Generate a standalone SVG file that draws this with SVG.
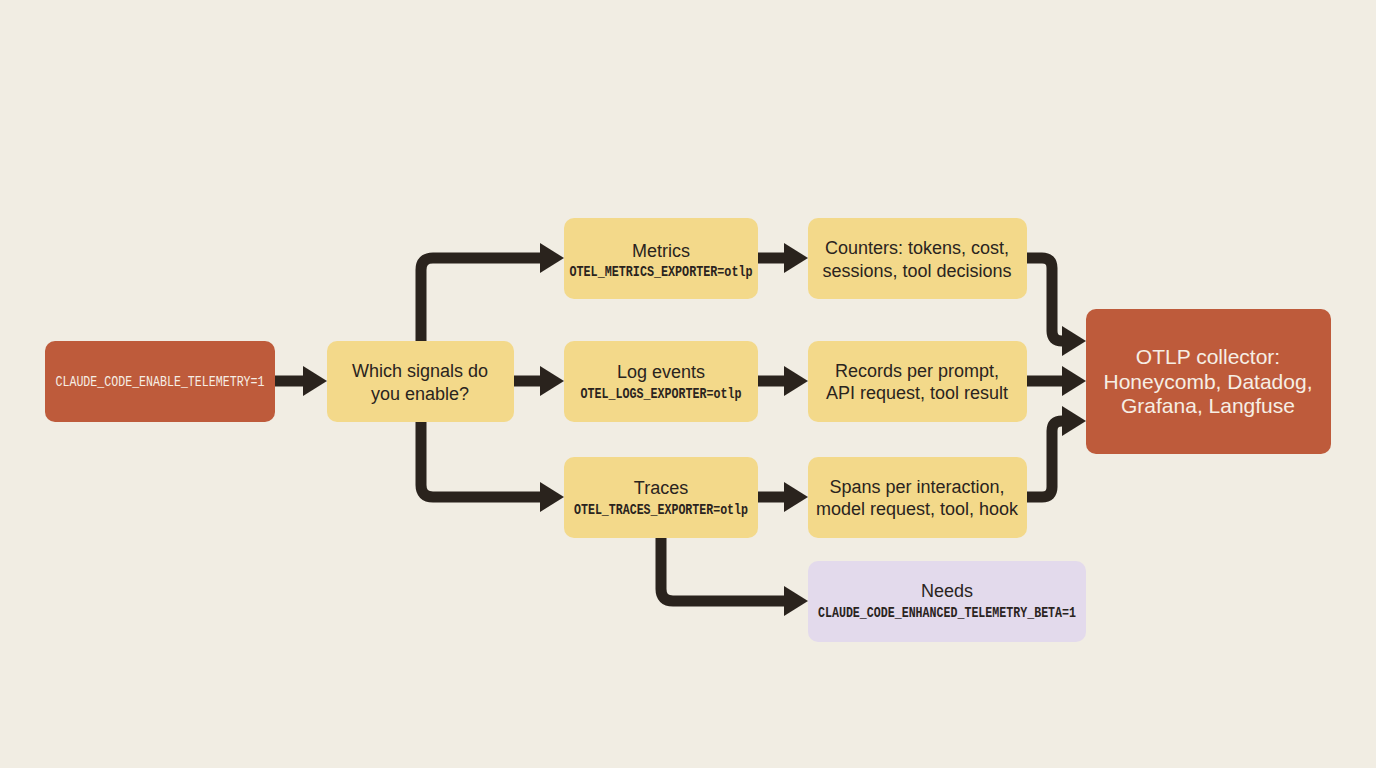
<svg xmlns="http://www.w3.org/2000/svg" width="1376" height="768" viewBox="0 0 1376 768">
<style>
.bg{fill:#F1EDE3}
.or{fill:#BE5B3B}
.ye{fill:#F3D98A}
.la{fill:#E3DAEC}
.t{font-family:"Liberation Sans",Arial,sans-serif;font-size:18px;fill:#2A241E;text-anchor:middle}
.tw{font-family:"Liberation Sans",Arial,sans-serif;font-size:21px;fill:#F6EEE4;text-anchor:middle}
.m{font-family:"Liberation Mono","DejaVu Sans Mono",monospace;font-size:15px;fill:#2A241E;text-anchor:middle;font-weight:bold}
.mw{font-family:"Liberation Mono","DejaVu Sans Mono",monospace;font-size:15px;fill:#F6EEE4;text-anchor:middle}
.c{fill:none;stroke:#2A231D;stroke-width:11;stroke-linejoin:round}
</style>
<defs>
<marker id="ah" markerUnits="userSpaceOnUse" markerWidth="26" markerHeight="30" refX="0" refY="15" orient="auto" overflow="visible">
<path d="M0,0 L24,15 L0,30 Z" fill="#2A231D"/>
</marker>
</defs>
<rect class="bg" x="0" y="0" width="1376" height="768"/>
<g id="connectors">
<path class="c" marker-end="url(#ah)" d="M275,381 H303"/>
<path class="c" marker-end="url(#ah)" d="M421,341 V270 Q421,258 433,258 H540"/>
<path class="c" marker-end="url(#ah)" d="M514,381 H540"/>
<path class="c" marker-end="url(#ah)" d="M421,421 V485 Q421,497 433,497 H540"/>
<path class="c" marker-end="url(#ah)" d="M758,258 H784"/>
<path class="c" marker-end="url(#ah)" d="M758,381 H784"/>
<path class="c" marker-end="url(#ah)" d="M758,497 H784"/>
<path class="c" marker-end="url(#ah)" d="M661,538 V589 Q661,601 673,601 H784"/>
<path class="c" marker-end="url(#ah)" d="M1027,258 H1042 Q1052,258 1052,268 V331 Q1052,341 1062,341"/>
<path class="c" marker-end="url(#ah)" d="M1027,381 H1062"/>
<path class="c" marker-end="url(#ah)" d="M1027,497 H1042 Q1052,497 1052,487 V431 Q1052,421 1062,421"/>
</g>
<g id="start">
<rect class="or" x="45" y="341" width="230" height="81" rx="10"/>
<text class="mw" x="160" y="386" textLength="209" lengthAdjust="spacingAndGlyphs">CLAUDE_CODE_ENABLE_TELEMETRY=1</text>
</g>
<g id="decision">
<rect class="ye" x="327" y="341" width="187" height="81" rx="10"/>
<text class="t" x="420" y="377">Which signals do</text>
<text class="t" x="420" y="400">you enable?</text>
</g>
<g id="metrics">
<rect class="ye" x="564" y="218" width="194" height="81" rx="10"/>
<text class="t" x="661" y="257">Metrics</text>
<text class="m" x="661" y="276" textLength="183" lengthAdjust="spacingAndGlyphs">OTEL_METRICS_EXPORTER=otlp</text>
</g>
<g id="logs">
<rect class="ye" x="564" y="341" width="194" height="81" rx="10"/>
<text class="t" x="661" y="378">Log events</text>
<text class="m" x="661" y="398" textLength="161" lengthAdjust="spacingAndGlyphs">OTEL_LOGS_EXPORTER=otlp</text>
</g>
<g id="traces">
<rect class="ye" x="564" y="457" width="194" height="81" rx="10"/>
<text class="t" x="661" y="494">Traces</text>
<text class="m" x="661" y="514" textLength="174" lengthAdjust="spacingAndGlyphs">OTEL_TRACES_EXPORTER=otlp</text>
</g>
<g id="counters">
<rect class="ye" x="808" y="218" width="219" height="81" rx="10"/>
<text class="t" x="917" y="254">Counters: tokens, cost,</text>
<text class="t" x="917" y="277">sessions, tool decisions</text>
</g>
<g id="records">
<rect class="ye" x="808" y="341" width="219" height="81" rx="10"/>
<text class="t" x="917" y="377">Records per prompt,</text>
<text class="t" x="917" y="399">API request, tool result</text>
</g>
<g id="spans">
<rect class="ye" x="808" y="457" width="219" height="81" rx="10"/>
<text class="t" x="917" y="493">Spans per interaction,</text>
<text class="t" x="917" y="515">model request, tool, hook</text>
</g>
<g id="needs">
<rect class="la" x="808" y="561" width="278" height="81" rx="10"/>
<text class="t" x="947" y="597">Needs</text>
<text class="m" x="947" y="617" textLength="258" lengthAdjust="spacingAndGlyphs">CLAUDE_CODE_ENHANCED_TELEMETRY_BETA=1</text>
</g>
<g id="collector">
<rect class="or" x="1086" y="309" width="245" height="145" rx="10"/>
<text class="tw" x="1208" y="364">OTLP collector:</text>
<text class="tw" x="1208" y="389">Honeycomb, Datadog,</text>
<text class="tw" x="1208" y="413">Grafana, Langfuse</text>
</g>
</svg>
